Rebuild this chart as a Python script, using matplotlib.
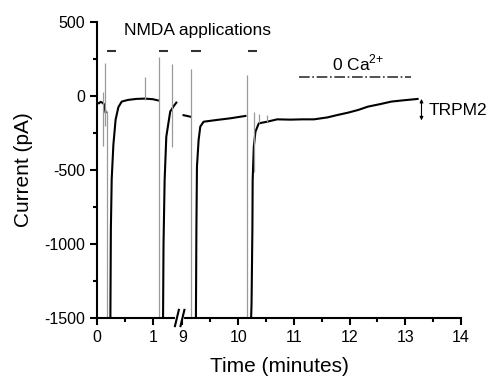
import matplotlib
matplotlib.use("Agg")
import matplotlib.pyplot as plt
import numpy as np

plt.rcParams['font.family'] = ['Liberation Sans', 'DejaVu Sans']
plt.rcParams['axes.unicode_minus'] = False
plt.rcParams['mathtext.fontset'] = 'custom'
plt.rcParams['mathtext.rm'] = 'Liberation Sans'

# Zeit (min) und Strom (pA) der durchgehenden Stuecke der Spur
seg_t = [
    [0.00, 0.03, 0.06, 0.09, 0.12, 0.15],
    [0.235, 0.245, 0.26, 0.29, 0.33, 0.38, 0.44, 0.55, 0.70, 0.85, 1.00, 1.09],
    [1.18, 1.19, 1.21, 1.24, 1.31, 1.37, 1.42],
    [9.02, 9.08, 9.14],
    [9.24, 9.25, 9.26, 9.29, 9.32, 9.38, 9.62, 9.86, 10.13],
    [10.225, 10.24, 10.255, 10.26, 10.28, 10.31, 10.37, 10.52, 10.70, 10.94,
     11.15, 11.36, 11.60, 11.79, 11.97, 12.15, 12.33, 12.55, 12.75, 12.95,
     13.17, 13.22],
]
seg_i = [
    [-45, -50, -40, -45, -55, -110],
    [-1600, -900, -560, -330, -160, -75, -38, -27, -20, -18, -22, -30],
    [-1600, -1000, -568, -275, -106, -70, -45],
    [-130, -135, -140],
    [-1600, -900, -478, -297, -207, -174, -162, -151, -135],
    [-1600, -1400, -900, -568, -343, -241, -185, -174, -158, -160,
     -158, -158, -145, -128, -113, -95, -72, -55, -38, -30,
     -22, -20],
]

# schnelle Ausschlaege (grau)
spike_t = [0.10, 0.14, 0.17, 0.86, 1.10, 1.34, 9.15, 10.16, 10.29, 10.37, 10.52]
spike_top = [30, 220, -100, 130, 265, 216, 180, 142, -106, -122, -128]
spike_bot = [-340, -200, -1600, -27, -1600, -343, -1600, -1600, -512, -180, -175]

# NMDA-Applikationen
nmda_start = [0.17, 1.10, 9.16, 10.18]
nmda_end = [0.34, 1.27, 9.33, 10.34]
nmda_level = 306

ca_free = [11.09, 13.10]
ca_level = 130
trpm2_t = 13.29
trpm2_range = [-20, -165]

xticks = [0, 1, 9, 10, 11, 12, 13, 14]
xminor = [0.5, 9.5, 10.5, 11.5, 12.5, 13.5]

GAP = 7.47  # herausgeschnittene Zeit (Achsenbruch)


def sq(t):
    t = np.asarray(t, dtype=float)
    return np.where(t < 5, t, t - GAP)


fig = plt.figure(figsize=(4.91, 3.81), dpi=100)
ax = fig.add_axes([0.198, 0.1654, 0.741, 0.777])

for t, i in zip(seg_t, seg_i):
    ax.plot(sq(t), i, color='black', lw=1.5)

ax.vlines(sq(spike_t), spike_bot, spike_top, color='#9a9a9a', lw=0.9)

ax.hlines([nmda_level] * len(nmda_start), sq(nmda_start), sq(nmda_end),
          color='#333333', lw=1.5)
ax.text(sq(1.8 + GAP), 440, 'NMDA applications', ha='center', va='center',
        fontsize=12.5)

ax.hlines(ca_level, sq(ca_free[0]), sq(ca_free[1]), color='#333333', lw=1.2,
          linestyles='-.')
ax.text(sq(12.15), 222, '0 Ca$^{\\mathregular{2{+}}}$', ha='center',
        va='center', fontsize=12.5)

ax.annotate('', xy=(sq(trpm2_t), trpm2_range[0]),
            xytext=(sq(trpm2_t), trpm2_range[1]),
            arrowprops=dict(arrowstyle='<|-|>', color='black', lw=0.8,
                            mutation_scale=5, shrinkA=0, shrinkB=0))
ax.text(sq(trpm2_t) + 0.12, -95, 'TRPM2', ha='left', va='center',
        fontsize=12.5, clip_on=False)

ax.set_xlim(0, sq(14))
ax.set_ylim(-1500, 500)
ax.set_xticks(sq(xticks))
ax.set_xticklabels([str(x) for x in xticks])
ax.set_xticks(sq(xminor), minor=True)
ax.set_yticks([500, 0, -500, -1000, -1500])
ax.set_yticks([250, -250, -750, -1250], minor=True)

for s in ['top', 'right']:
    ax.spines[s].set_visible(False)
for s in ['left', 'bottom']:
    ax.spines[s].set_linewidth(1.5)
ax.tick_params(which='major', direction='out', length=5, width=1.5,
               labelsize=11.5)
ax.tick_params(which='minor', direction='out', length=3, width=1.5)

# Achsenbruch
bx = (sq(1.47) + sq(8.96)) / 2
ax.plot([bx - 0.05, bx + 0.05], [-1500, -1500], color='white', lw=3,
        clip_on=False, zorder=5)
for dx in (-0.05, 0.05):
    ax.plot([bx + dx - 0.035, bx + dx + 0.035], [-1555, -1445], color='black',
            lw=1.5, clip_on=False, zorder=6)

ax.set_xlabel('Time (minutes)', fontsize=15, labelpad=9)
ax.set_ylabel('Current (pA)', fontsize=15, labelpad=8)

plt.savefig('out.png', dpi=100)
